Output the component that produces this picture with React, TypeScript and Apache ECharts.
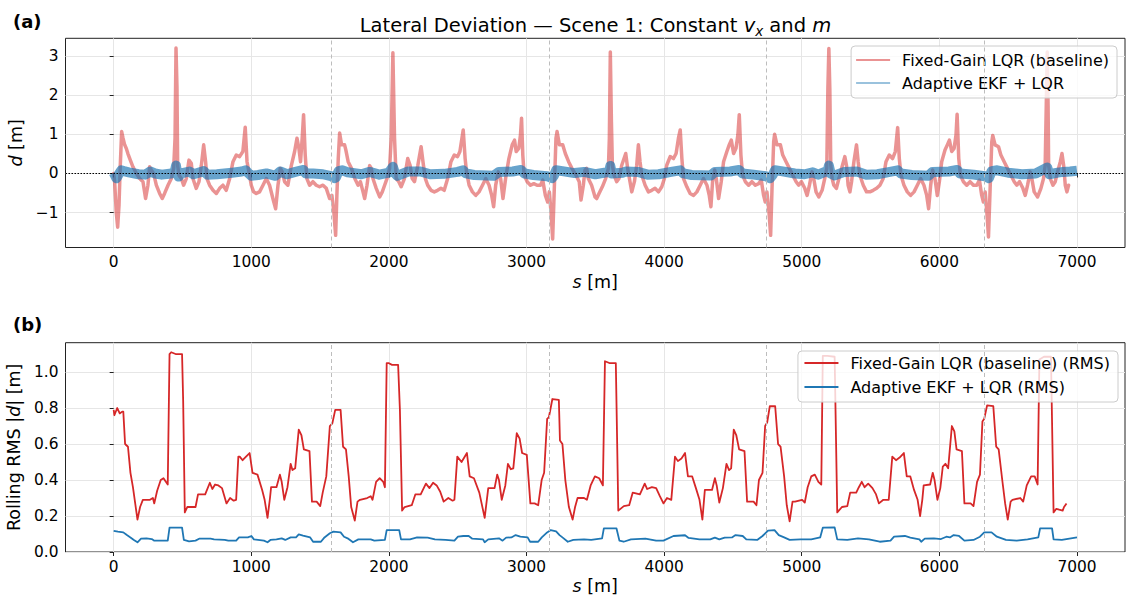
import React, { useEffect, useRef } from "react";
import * as echarts from "echarts";

const FONT = "DejaVu Sans";

// ---------- Panel (a): lateral deviation d [m] vs s [m] ----------
const devFixedS = [0, 7, 19, 29, 39, 48, 58, 68, 80, 92, 104, 121, 140, 165, 189, 213, 232, 249, 261, 273, 290, 310, 334, 353, 370, 395, 419, 436, 446, 453, 460, 465, 475, 492, 508, 528, 547, 564, 576, 600, 620, 637, 654, 668, 678, 697, 722, 746, 770, 794, 818, 843, 867, 891, 915, 939, 956, 969, 983, 1000, 1017, 1036, 1060, 1085, 1109, 1133, 1157, 1177, 1194, 1211, 1225, 1242, 1266, 1291, 1315, 1332, 1346, 1358, 1370, 1380, 1392, 1404, 1424, 1448, 1472, 1496, 1521, 1545, 1569, 1586, 1600, 1613, 1622, 1632, 1642, 1656, 1678, 1687, 1704, 1728, 1752, 1776, 1793, 1812, 1824, 1841, 1860, 1872, 1884, 1908, 1933, 1952, 1969, 1986, 2005, 2017, 2029, 2041, 2053, 2072, 2089, 2113, 2137, 2154, 2169, 2186, 2210, 2234, 2251, 2265, 2282, 2306, 2330, 2354, 2378, 2402, 2427, 2451, 2475, 2499, 2516, 2540, 2554, 2564, 2583, 2607, 2631, 2655, 2680, 2704, 2728, 2747, 2761, 2776, 2795, 2812, 2829, 2848, 2872, 2896, 2913, 2925, 2944, 2956, 2964, 2973, 2983, 3005, 3029, 3053, 3077, 3101, 3118, 3137, 3154, 3166, 3178, 3190, 3202, 3214, 3222, 3239, 3263, 3282, 3306, 3330, 3359, 3383, 3396, 3413, 3425, 3437, 3449, 3473, 3498, 3510, 3527, 3551, 3575, 3595, 3602, 3609, 3617, 3624, 3636, 3655, 3672, 3692, 3721, 3735, 3752, 3765, 3784, 3801, 3813, 3825, 3837, 3862, 3886, 3910, 3934, 3959, 3983, 4002, 4019, 4044, 4068, 4087, 4104, 4117, 4129, 4141, 4165, 4189, 4214, 4238, 4262, 4286, 4311, 4328, 4340, 4352, 4367, 4379, 4396, 4415, 4432, 4456, 4473, 4488, 4505, 4522, 4536, 4546, 4558, 4570, 4590, 4614, 4638, 4663, 4687, 4706, 4723, 4735, 4747, 4762, 4774, 4784, 4796, 4803, 4820, 4845, 4862, 4886, 4910, 4934, 4959, 4978, 4998, 5022, 5039, 5056, 5075, 5087, 5104, 5124, 5148, 5167, 5182, 5190, 5197, 5204, 5211, 5221, 5233, 5252, 5270, 5296, 5313, 5325, 5337, 5350, 5362, 5379, 5398, 5410, 5422, 5447, 5471, 5495, 5519, 5544, 5568, 5592, 5612, 5636, 5660, 5680, 5697, 5709, 5721, 5743, 5767, 5791, 5816, 5840, 5864, 5888, 5908, 5922, 5937, 5951, 5968, 5985, 6000, 6017, 6041, 6058, 6073, 6090, 6107, 6121, 6129, 6141, 6153, 6175, 6199, 6223, 6248, 6272, 6291, 6308, 6320, 6333, 6345, 6357, 6369, 6381, 6388, 6405, 6430, 6447, 6471, 6495, 6519, 6544, 6563, 6583, 6607, 6624, 6641, 6660, 6672, 6689, 6714, 6738, 6757, 6769, 6777, 6784, 6790, 6794, 6806, 6825, 6842, 6859, 6879, 6891, 6903, 6915, 6927, 6939];
const devFixed = [0.0, -0.2, -1.0, -1.37, -0.8, 0.2, 1.07, 0.9, 0.73, 0.64, 0.5, 0.34, 0.17, 0.0, -0.13, -0.21, -0.64, -0.3, 0.17, 0.09, 0.0, -0.3, -0.51, -0.64, -0.51, -0.3, -0.13, 0.13, 0.9, 3.2, 2.2, 0.2, -0.05, -0.13, -0.3, -0.13, 0.34, 0.26, -0.13, -0.38, -0.21, 0.2, 0.73, 0.3, -0.13, -0.3, -0.43, -0.51, -0.38, -0.3, -0.43, -0.13, 0.3, 0.47, 0.43, 0.56, 1.18, 0.3, 0.04, -0.3, -0.47, -0.51, -0.47, -0.3, -0.13, -0.3, -0.64, -0.9, -0.3, 0.13, 0.04, -0.21, -0.3, 0.2, 0.56, 0.9, 0.64, 0.3, 0.9, 1.5, 0.47, -0.13, -0.3, -0.21, -0.3, -0.34, -0.3, -0.38, -0.64, -0.56, -0.98, -1.58, -0.56, 0.38, 1.03, 0.73, 0.73, 0.6, 0.3, 0.13, -0.13, -0.3, -0.21, -0.47, -0.64, -0.3, 0.2, 0.13, -0.13, -0.38, -0.6, -0.47, -0.3, -0.13, 0.13, 0.9, 3.08, 0.9, -0.13, -0.21, -0.34, -0.13, 0.38, 0.21, -0.13, -0.21, 0.2, 0.68, 0.21, -0.13, -0.3, -0.43, -0.47, -0.43, -0.38, -0.43, -0.13, 0.3, 0.47, 0.43, 0.56, 1.11, 0.38, 0.04, -0.3, -0.47, -0.56, -0.47, -0.3, -0.13, -0.3, -0.56, -0.85, -0.3, 0.04, -0.13, -0.64, -0.13, 0.38, 0.73, 0.85, 0.56, 0.64, 0.98, 1.41, 0.47, -0.04, -0.21, -0.3, -0.26, -0.3, -0.3, -0.17, -0.56, -0.73, -0.47, -0.98, -1.67, -0.38, 0.9, 1.07, 0.73, 0.73, 0.51, 0.3, 0.13, -0.04, -0.21, -0.68, -0.3, 0.09, 0.13, -0.13, -0.3, -0.6, -0.64, -0.51, -0.34, -0.13, 0.13, 0.9, 3.1, 1.32, 0.21, -0.04, -0.21, -0.13, 0.21, 0.51, 0.13, -0.21, -0.47, -0.21, 0.21, 0.73, 0.3, -0.04, -0.3, -0.47, -0.43, -0.38, -0.47, -0.34, -0.13, 0.21, 0.43, 0.38, 0.51, 0.9, 1.11, 0.38, -0.13, -0.34, -0.51, -0.56, -0.47, -0.3, -0.13, -0.3, -0.56, -0.85, -0.21, 0.09, -0.13, -0.64, -0.21, 0.3, 0.56, 0.73, 0.85, 0.51, 0.64, 0.98, 1.5, 0.47, -0.04, -0.21, -0.3, -0.21, -0.3, -0.26, -0.17, -0.56, -0.73, -0.47, -0.98, -1.58, -0.38, 0.81, 1.0, 0.73, 0.73, 0.47, 0.3, 0.13, -0.04, -0.21, -0.3, -0.21, -0.38, -0.56, -0.3, 0.04, -0.13, -0.47, -0.6, -0.43, -0.13, 0.13, 2.18, 3.19, 2.18, 0.21, -0.13, -0.3, -0.38, -0.13, 0.21, 0.43, 0.21, -0.3, -0.47, -0.21, 0.3, 0.73, 0.3, -0.04, -0.3, -0.47, -0.47, -0.43, -0.38, -0.3, -0.13, 0.3, 0.47, 0.38, 0.56, 1.17, 0.38, -0.04, -0.3, -0.47, -0.56, -0.47, -0.3, -0.13, -0.3, -0.56, -0.9, -0.3, 0.09, -0.13, -0.56, -0.21, 0.3, 0.6, 0.73, 0.85, 0.56, 0.64, 0.98, 1.51, 0.38, -0.04, -0.21, -0.3, -0.21, -0.3, -0.3, -0.17, -0.56, -0.73, -0.47, -0.98, -1.62, -0.38, 0.81, 0.97, 0.73, 0.68, 0.47, 0.3, 0.13, -0.04, -0.21, -0.3, -0.21, -0.38, -0.56, -0.3, 0.04, -0.13, -0.47, -0.6, -0.38, -0.13, 0.21, 1.75, 3.1, 1.75, 0.21, -0.13, -0.3, -0.21, 0.04, 0.3, 0.51, 0.21, -0.3, -0.47, -0.3];

const devAdaptS = [0, 10, 20, 35, 55, 75, 110, 180, 230, 265, 300, 350, 420, 445, 453, 460, 472, 490, 550, 580, 655, 680, 750, 860, 930, 960, 975, 1000, 1050, 1110, 1175, 1210, 1260, 1320, 1380, 1395, 1450, 1520, 1580, 1605, 1615, 1635, 1660, 1700, 1800, 1860, 1930, 2000, 2029, 2045, 2060, 2140, 2230, 2300, 2400, 2500, 2540, 2560, 2620, 2760, 2800, 2900, 2960, 2985, 3050, 3150, 3185, 3200, 3215, 3260, 3350, 3420, 3500, 3600, 3609, 3620, 3700, 3720, 3810, 3880, 3960, 4050, 4117, 4140, 4200, 4340, 4370, 4480, 4545, 4570, 4650, 4740, 4770, 4790, 4805, 4850, 4950, 5020, 5080, 5120, 5190, 5197, 5210, 5240, 5310, 5400, 5470, 5550, 5640, 5697, 5720, 5800, 5920, 5950, 6070, 6129, 6150, 6250, 6330, 6360, 6380, 6420, 6500, 6600, 6700, 6784, 6800, 6860, 6900, 6950, 7000];
const devAdapt = [0.02, -0.05, -0.12, -0.03, 0.08, 0.06, 0.03, -0.02, -0.03, 0.05, 0.0, -0.03, 0.0, 0.06, 0.2, 0.03, -0.08, 0.0, 0.05, -0.02, 0.06, -0.03, -0.02, 0.02, 0.05, 0.08, 0.02, -0.06, -0.04, 0.0, -0.06, 0.05, -0.02, 0.04, 0.09, 0.0, 0.0, -0.02, -0.07, -0.12, -0.1, 0.06, 0.08, 0.03, -0.02, 0.04, -0.03, 0.02, 0.17, 0.0, -0.06, 0.05, 0.05, -0.02, -0.01, 0.04, 0.08, 0.0, -0.04, -0.06, 0.04, 0.05, 0.09, 0.0, -0.04, -0.07, -0.12, -0.05, 0.08, 0.06, 0.01, 0.04, -0.02, 0.04, 0.19, 0.0, 0.02, 0.05, 0.04, -0.03, -0.02, 0.04, 0.08, 0.0, -0.04, -0.05, 0.04, 0.05, 0.09, 0.0, -0.03, -0.07, -0.12, -0.03, 0.08, 0.06, 0.0, -0.02, 0.03, -0.03, 0.07, 0.2, 0.0, -0.05, 0.04, 0.05, -0.03, -0.02, 0.04, 0.08, 0.0, -0.04, -0.06, 0.04, 0.05, 0.09, 0.0, -0.03, -0.07, -0.12, 0.06, 0.08, 0.02, -0.02, 0.0, 0.15, -0.02, 0.02, 0.04, 0.05, 0.07];

// ---------- Panel (b): rolling RMS |d| [m] vs s [m] ----------
const rmsFixedS = [0, 5, 26, 44, 62, 70, 83, 104, 122, 140, 173, 192, 212, 264, 285, 295, 316, 342, 362, 393, 406, 418, 450, 497, 505, 517, 535, 595, 613, 665, 699, 717, 737, 761, 787, 820, 846, 872, 890, 906, 916, 937, 962, 988, 1009, 1045, 1079, 1097, 1118, 1136, 1144, 1183, 1208, 1221, 1240, 1263, 1286, 1299, 1319, 1345, 1364, 1382, 1423, 1441, 1475, 1501, 1519, 1545, 1571, 1589, 1610, 1649, 1667, 1688, 1708, 1726, 1752, 1772, 1790, 1842, 1868, 1881, 1907, 1933, 1959, 1971, 1984, 1997, 2023, 2067, 2080, 2096, 2114, 2166, 2192, 2231, 2269, 2295, 2321, 2347, 2373, 2398, 2432, 2463, 2476, 2497, 2528, 2567, 2587, 2618, 2657, 2696, 2722, 2768, 2787, 2800, 2820, 2846, 2865, 2886, 2904, 2929, 2950, 2968, 3002, 3028, 3059, 3085, 3110, 3128, 3150, 3163, 3188, 3235, 3243, 3261, 3282, 3308, 3335, 3353, 3371, 3418, 3439, 3466, 3497, 3528, 3555, 3570, 3602, 3649, 3667, 3707, 3746, 3772, 3824, 3859, 3877, 3911, 3942, 3969, 3995, 4021, 4052, 4079, 4100, 4126, 4152, 4173, 4204, 4231, 4257, 4278, 4296, 4348, 4369, 4382, 4401, 4427, 4453, 4472, 4487, 4506, 4524, 4545, 4584, 4603, 4650, 4671, 4689, 4715, 4734, 4749, 4768, 4807, 4828, 4846, 4872, 4891, 4912, 4933, 4951, 5003, 5022, 5043, 5069, 5095, 5121, 5142, 5153, 5187, 5239, 5258, 5292, 5331, 5352, 5396, 5415, 5436, 5457, 5483, 5514, 5540, 5561, 5593, 5632, 5658, 5685, 5711, 5742, 5763, 5789, 5816, 5842, 5860, 5876, 5886, 5933, 5952, 5965, 5986, 6007, 6025, 6044, 6064, 6091, 6109, 6125, 6164, 6182, 6227, 6248, 6274, 6295, 6313, 6326, 6347, 6392, 6413, 6431, 6457, 6478, 6497, 6518, 6531, 6588, 6609, 6635, 6667, 6693, 6714, 6727, 6760, 6811, 6830, 6850, 6871, 6896, 6906, 6924];
const rmsFixed = [0.79, 0.76, 0.8, 0.77, 0.78, 0.78, 0.6, 0.585, 0.44, 0.36, 0.18, 0.25, 0.29, 0.29, 0.3, 0.27, 0.34, 0.4, 0.41, 0.375, 1.1, 1.11, 1.1, 1.1, 0.84, 0.22, 0.25, 0.25, 0.32, 0.32, 0.385, 0.35, 0.375, 0.37, 0.355, 0.27, 0.3, 0.285, 0.29, 0.53, 0.53, 0.51, 0.53, 0.55, 0.44, 0.43, 0.345, 0.29, 0.19, 0.3, 0.36, 0.36, 0.43, 0.39, 0.29, 0.36, 0.49, 0.455, 0.465, 0.68, 0.65, 0.57, 0.56, 0.28, 0.28, 0.255, 0.33, 0.42, 0.7, 0.715, 0.79, 0.79, 0.585, 0.57, 0.42, 0.25, 0.175, 0.28, 0.29, 0.3, 0.31, 0.29, 0.39, 0.41, 0.39, 0.36, 1.05, 1.05, 1.04, 1.04, 0.79, 0.23, 0.25, 0.26, 0.32, 0.32, 0.38, 0.355, 0.385, 0.37, 0.335, 0.28, 0.3, 0.285, 0.29, 0.53, 0.5, 0.55, 0.42, 0.41, 0.33, 0.19, 0.355, 0.355, 0.43, 0.4, 0.29, 0.37, 0.49, 0.46, 0.465, 0.66, 0.63, 0.55, 0.54, 0.27, 0.27, 0.26, 0.4, 0.44, 0.74, 0.75, 0.85, 0.845, 0.62, 0.6, 0.4, 0.25, 0.18, 0.25, 0.3, 0.3, 0.29, 0.37, 0.42, 0.41, 0.37, 1.06, 1.05, 1.05, 0.23, 0.255, 0.26, 0.33, 0.32, 0.38, 0.35, 0.36, 0.355, 0.31, 0.27, 0.3, 0.29, 0.53, 0.505, 0.52, 0.55, 0.42, 0.42, 0.355, 0.29, 0.18, 0.345, 0.345, 0.41, 0.37, 0.275, 0.355, 0.49, 0.455, 0.465, 0.68, 0.65, 0.57, 0.56, 0.28, 0.28, 0.26, 0.4, 0.44, 0.7, 0.72, 0.81, 0.81, 0.6, 0.585, 0.42, 0.26, 0.17, 0.28, 0.28, 0.29, 0.275, 0.36, 0.42, 0.43, 0.39, 0.375, 1.09, 1.09, 1.085, 0.22, 0.25, 0.255, 0.33, 0.33, 0.36, 0.39, 0.36, 0.38, 0.355, 0.32, 0.27, 0.29, 0.29, 0.53, 0.51, 0.525, 0.55, 0.42, 0.42, 0.345, 0.29, 0.2, 0.29, 0.37, 0.375, 0.44, 0.4, 0.29, 0.355, 0.475, 0.49, 0.465, 0.7, 0.67, 0.57, 0.56, 0.27, 0.27, 0.255, 0.39, 0.43, 0.725, 0.74, 0.815, 0.81, 0.585, 0.57, 0.4, 0.27, 0.18, 0.28, 0.29, 0.3, 0.28, 0.37, 0.42, 0.42, 0.375, 1.07, 1.085, 1.085, 0.22, 0.24, 0.235, 0.23, 0.25, 0.27];

const rmsAdaptS = [0, 31, 70, 96, 122, 147, 173, 199, 238, 277, 295, 393, 406, 497, 510, 548, 595, 621, 704, 730, 807, 833, 890, 911, 975, 1001, 1019, 1092, 1118, 1139, 1183, 1221, 1247, 1286, 1325, 1345, 1376, 1428, 1449, 1506, 1532, 1571, 1597, 1649, 1674, 1700, 1739, 1778, 1868, 1894, 1971, 1984, 2075, 2088, 2153, 2205, 2282, 2334, 2412, 2476, 2502, 2541, 2580, 2606, 2684, 2696, 2722, 2800, 2826, 2852, 2890, 2921, 2955, 3008, 3026, 3085, 3111, 3150, 3176, 3215, 3240, 3261, 3300, 3340, 3418, 3470, 3549, 3562, 3654, 3675, 3706, 3759, 3864, 3942, 3995, 4068, 4152, 4178, 4257, 4335, 4369, 4401, 4440, 4493, 4519, 4571, 4597, 4676, 4715, 4755, 4802, 4833, 4872, 4912, 4990, 5069, 5134, 5153, 5239, 5258, 5331, 5409, 5488, 5567, 5645, 5671, 5750, 5789, 5855, 5868, 5894, 5960, 6012, 6051, 6077, 6104, 6143, 6182, 6248, 6295, 6326, 6379, 6418, 6484, 6562, 6641, 6719, 6732, 6819, 6830, 6890, 6956, 7000];
const rmsAdapt = [0.117, 0.113, 0.109, 0.094, 0.081, 0.067, 0.054, 0.074, 0.076, 0.072, 0.063, 0.063, 0.135, 0.135, 0.067, 0.059, 0.063, 0.074, 0.074, 0.07, 0.067, 0.063, 0.063, 0.081, 0.081, 0.089, 0.07, 0.063, 0.054, 0.067, 0.07, 0.076, 0.067, 0.081, 0.081, 0.098, 0.091, 0.081, 0.057, 0.057, 0.081, 0.104, 0.113, 0.109, 0.085, 0.076, 0.054, 0.07, 0.07, 0.063, 0.067, 0.122, 0.122, 0.07, 0.07, 0.081, 0.08, 0.07, 0.067, 0.063, 0.085, 0.089, 0.089, 0.074, 0.07, 0.054, 0.07, 0.076, 0.063, 0.08, 0.081, 0.094, 0.085, 0.081, 0.057, 0.057, 0.081, 0.109, 0.122, 0.115, 0.094, 0.081, 0.057, 0.067, 0.07, 0.067, 0.076, 0.131, 0.131, 0.063, 0.057, 0.07, 0.074, 0.063, 0.063, 0.089, 0.093, 0.078, 0.07, 0.07, 0.08, 0.07, 0.08, 0.081, 0.094, 0.089, 0.07, 0.067, 0.089, 0.119, 0.122, 0.094, 0.081, 0.067, 0.07, 0.07, 0.081, 0.135, 0.137, 0.07, 0.067, 0.076, 0.07, 0.057, 0.063, 0.085, 0.089, 0.08, 0.07, 0.057, 0.074, 0.076, 0.072, 0.085, 0.081, 0.094, 0.089, 0.063, 0.067, 0.085, 0.109, 0.109, 0.085, 0.067, 0.063, 0.07, 0.081, 0.131, 0.131, 0.07, 0.067, 0.076, 0.081];

// Lap boundaries (vertical dashed lines) and tick values
const lapMarks = [1581, 3162, 4743, 6324];
const xTicks = [0, 1000, 2000, 3000, 4000, 5000, 6000, 7000];
const yTicksA = [-1, 0, 1, 2, 3];
const yTicksB = [0, 0.2, 0.4, 0.6, 0.8, 1.0];

const zip = (xs: number[], ys: number[]) => xs.map((x, i) => [x, ys[i]]);

const LEG_A = ["Fixed-Gain LQR (baseline)", "Adaptive EKF + LQR"];
const LEG_B = ["Fixed-Gain LQR (baseline) (RMS)", "Adaptive EKF + LQR (RMS)"];

const tickFont = { fontFamily: FONT, fontSize: 15.4, color: "#000" };
const italicRich = {
  i: { fontFamily: FONT, fontSize: 17.5, fontStyle: "italic", color: "#000" },
};
const nameFont = { fontFamily: FONT, fontSize: 17.5, color: "#000", rich: italicRich };

function xAxisFor(gridIndex: number) {
  return {
    type: "value",
    gridIndex,
    min: -350,
    max: 7349,
    splitNumber: 8,
    name: "{i|s} [m]",
    nameLocation: "middle",
    nameGap: 25,
    nameTextStyle: nameFont,
    axisLine: { show: false },
    axisTick: {
      show: true,
      length: 4,
      customValues: xTicks,
      lineStyle: { color: "#222", width: 1 },
    },
    axisLabel: {
      ...tickFont,
      margin: 7,
      customValues: xTicks,
      formatter: (v: number) => String(v),
    },
    splitLine: { show: true, lineStyle: { color: "#e6e6e6", width: 1 } },
  };
}

export default function App() {
  const ref = useRef<HTMLDivElement>(null);

  useEffect(() => {
    if (!ref.current) return;
    const chart = echarts.init(ref.current, undefined, { renderer: "svg" });

    const lapLines = lapMarks.map((v) => ({
      xAxis: v,
      lineStyle: { color: "#bdbdbd", type: [4, 3], width: 1 },
    }));

    const legendBase = {
      orient: "vertical",
      icon: "rect",
      itemWidth: 34,
      itemHeight: 2,
      selectedMode: false,
      backgroundColor: "rgba(255,255,255,0.8)",
      borderColor: "#cccccc",
      borderWidth: 1,
      borderRadius: 4,
      textStyle: {
        fontFamily: FONT,
        fontSize: 16,
        color: "#000",
        lineHeight: 16,
        padding: [0, 0, 0, 7],
      },
    };

    const option: any = {
      animation: false,
      backgroundColor: "#ffffff",
      textStyle: { fontFamily: FONT },
      grid: [
        { left: 65.5, right: 1, top: 38.3, height: 209.2, show: true, borderColor: "#222", borderWidth: 1, backgroundColor: "transparent", outerBoundsMode: "none" },
        { left: 65.5, right: 1, top: 342.7, height: 209.3, show: true, borderColor: "#222", borderWidth: 1, backgroundColor: "transparent", outerBoundsMode: "none" },
      ],
      xAxis: [xAxisFor(0), xAxisFor(1)],
      yAxis: [
        {
          type: "value",
          gridIndex: 0,
          min: -1.89,
          max: 3.45,
          splitNumber: 5,
          name: "{i|d} [m]",
          nameLocation: "middle",
          nameGap: 36,
          nameTextStyle: nameFont,
          axisLine: { show: false },
          axisTick: { show: true, length: 4, customValues: yTicksA, lineStyle: { color: "#222", width: 1 } },
          axisLabel: {
            ...tickFont,
            margin: 7,
            customValues: yTicksA,
            formatter: (v: number) => (v < 0 ? "\u2212" + Math.abs(v) : String(v)),
          },
          splitLine: { show: true, lineStyle: { color: "#e6e6e6", width: 1 } },
        },
        {
          type: "value",
          gridIndex: 1,
          min: 0,
          max: 1.163,
          splitNumber: 6,
          name: "Rolling RMS |{i|d}| [m]",
          nameLocation: "middle",
          nameGap: 40,
          nameTextStyle: nameFont,
          axisLine: { show: false },
          axisTick: { show: true, length: 4, customValues: yTicksB, lineStyle: { color: "#222", width: 1 } },
          axisLabel: {
            ...tickFont,
            margin: 7,
            customValues: yTicksB,
            formatter: (v: number) => v.toFixed(1),
          },
          splitLine: { show: true, lineStyle: { color: "#e6e6e6", width: 1 } },
        },
      ],
      legend: [
        {
          ...legendBase,
          right: 9,
          top: 46,
          padding: [6, 8, 7, 5],
          itemGap: 7,
          data: [
            { name: LEG_A[0], itemStyle: { color: "rgba(214,39,40,0.5)" } },
            { name: LEG_A[1], itemStyle: { color: "rgba(31,119,180,0.45)" } },
          ],
        },
        {
          ...legendBase,
          right: 8,
          top: 351,
          padding: [4, 8, 7, 6.5],
          itemGap: 8,
          data: [
            { name: LEG_B[0], itemStyle: { color: "#d62728" } },
            { name: LEG_B[1], itemStyle: { color: "#1f77b4" } },
          ],
        },
      ],
      graphic: [
        {
          type: "text",
          x: 595.5,
          y: 25,
          style: {
            text: "Lateral Deviation \u2014 Scene 1: Constant {i|v}{sub|x} and {i|m}",
            fontFamily: FONT,
            fontSize: 19.5,
            fill: "#000",
            align: "center",
            verticalAlign: "middle",
            rich: {
              i: { fontFamily: FONT, fontSize: 19.5, fontStyle: "italic", fill: "#000" },
              sub: { fontFamily: FONT, fontSize: 13.5, fontStyle: "italic", fill: "#000", lineHeight: 14, padding: [9, 0, 0, 0], verticalAlign: "top" },
            },
          },
        },
        {
          type: "text",
          x: 13,
          y: 21,
          style: { text: "(a)", fontFamily: FONT, fontSize: 18, fontWeight: "bold", fill: "#000", verticalAlign: "middle" },
        },
        {
          type: "text",
          x: 13,
          y: 324,
          style: { text: "(b)", fontFamily: FONT, fontSize: 18, fontWeight: "bold", fill: "#000", verticalAlign: "middle" },
        },
      ],
      series: [
        {
          name: LEG_A[0],
          type: "line",
          xAxisIndex: 0,
          yAxisIndex: 0,
          data: zip(devFixedS, devFixed),
          symbol: "none",
          showSymbol: false,
          lineStyle: { color: "rgba(214,39,40,0.5)", width: 3.5, join: "round", cap: "round" },
          itemStyle: { color: "rgba(214,39,40,0.5)" },
          z: 2,
        },
        {
          name: LEG_A[1],
          type: "line",
          xAxisIndex: 0,
          yAxisIndex: 0,
          data: zip(devAdaptS, devAdapt),
          symbol: "none",
          showSymbol: false,
          lineStyle: { color: "rgba(31,119,180,0.68)", width: 10, join: "round", cap: "butt" },
          itemStyle: { color: "rgba(31,119,180,0.68)" },
          z: 3,
          markLine: {
            silent: true,
            symbol: ["none", "none"],
            label: { show: false },
            animation: false,
            data: [
              ...lapLines,
              { yAxis: 0, lineStyle: { color: "#000", type: [1.5, 1.5], width: 1 } },
            ],
          },
        },
        {
          name: LEG_B[0],
          type: "line",
          xAxisIndex: 1,
          yAxisIndex: 1,
          data: zip(rmsFixedS, rmsFixed),
          symbol: "none",
          showSymbol: false,
          lineStyle: { color: "#d62728", width: 1.8, join: "round" },
          itemStyle: { color: "#d62728" },
          z: 3,
        },
        {
          name: LEG_B[1],
          type: "line",
          xAxisIndex: 1,
          yAxisIndex: 1,
          data: zip(rmsAdaptS, rmsAdapt),
          symbol: "none",
          showSymbol: false,
          lineStyle: { color: "#1f77b4", width: 1.8, join: "round" },
          itemStyle: { color: "#1f77b4" },
          z: 3,
          markLine: {
            silent: true,
            symbol: ["none", "none"],
            label: { show: false },
            animation: false,
            data: lapLines,
          },
        },
      ],
    };

    chart.setOption(option);
    return () => chart.dispose();
  }, []);

  return (
    <div
      ref={ref}
      style={{ position: "absolute", left: 0, top: 0, width: 1126, height: 602, background: "#fff" }}
    />
  );
}
